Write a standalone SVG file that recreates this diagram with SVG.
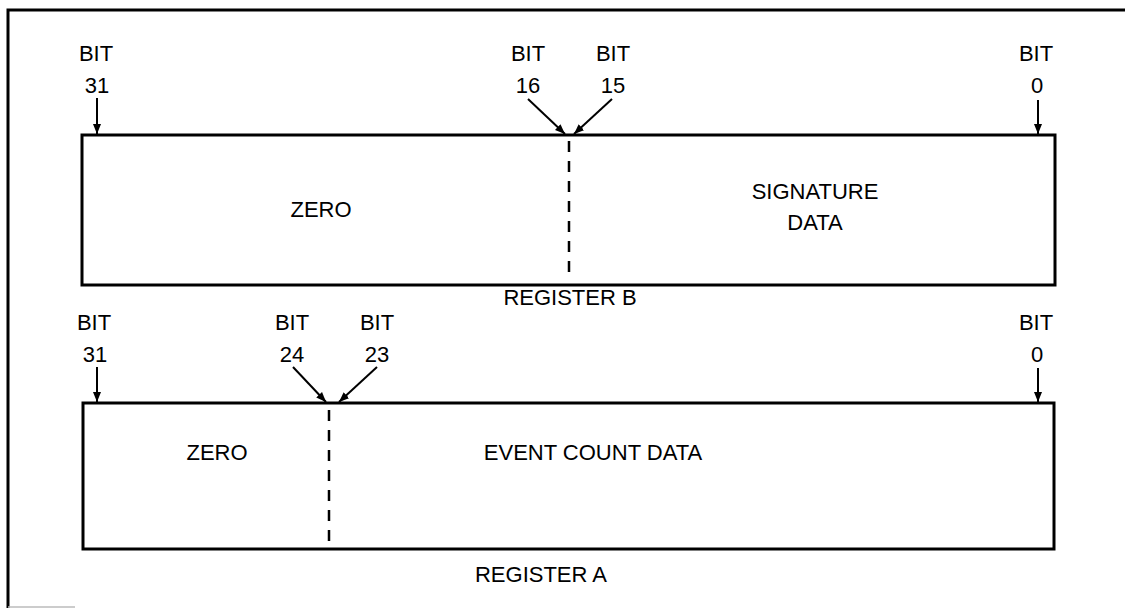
<svg xmlns="http://www.w3.org/2000/svg" width="1125" height="609" viewBox="0 0 1125 609">
<style>
.t{font-family:"Liberation Sans",Arial,sans-serif;font-size:22px;fill:#000;text-anchor:middle}
.box{fill:none;stroke:#000;stroke-width:3}
.dash{stroke:#000;stroke-width:2.5;stroke-dasharray:11 9;fill:none}
.arr{stroke:#000;stroke-width:2;fill:none;marker-end:url(#ah)}
.frame{stroke:#000;stroke-width:3;fill:none}
</style>
<defs>
<marker id="ah" viewBox="0 0 10 10" refX="10" refY="5" markerWidth="5" markerHeight="5" orient="auto" markerUnits="strokeWidth">
<path d="M0,1 L10,5 L0,9 z" fill="#000"/>
</marker>
</defs>
<rect width="1125" height="609" fill="#fff"/>
<path class="frame" d="M8,608 L8,10 L1125,10"/>
<line x1="8" y1="607" x2="75" y2="607" stroke="#bbb" stroke-width="1.5"/>

<g id="registerB">
<rect class="box" x="82" y="135" width="973" height="150"/>
<line class="dash" x1="569" y1="141" x2="569" y2="280"/>
<text class="t" x="321" y="217">ZERO</text>
<text class="t" x="815" y="199">SIGNATURE</text>
<text class="t" x="815" y="230">DATA</text>
<text class="t" x="570" y="305">REGISTER B</text>
</g>

<g id="registerB-labels">
<text class="t" x="96" y="61">BIT</text>
<text class="t" x="97" y="93">31</text>
<text class="t" x="528" y="61">BIT</text>
<text class="t" x="528" y="93">16</text>
<text class="t" x="613" y="61">BIT</text>
<text class="t" x="613" y="93">15</text>
<text class="t" x="1036" y="61">BIT</text>
<text class="t" x="1037" y="93">0</text>
</g>

<g id="registerA">
<rect class="box" x="83" y="403" width="971" height="146"/>
<line class="dash" x1="329" y1="410" x2="329" y2="545"/>
<text class="t" x="217" y="460">ZERO</text>
<text class="t" x="593" y="460">EVENT COUNT DATA</text>
<text class="t" x="541" y="582">REGISTER A</text>
</g>

<g id="registerA-labels">
<text class="t" x="94" y="330">BIT</text>
<text class="t" x="95" y="362">31</text>
<text class="t" x="292" y="330">BIT</text>
<text class="t" x="292" y="362">24</text>
<text class="t" x="377" y="330">BIT</text>
<text class="t" x="377" y="362">23</text>
<text class="t" x="1036" y="330">BIT</text>
<text class="t" x="1037" y="362">0</text>
</g>

<g id="connectors">
<line class="arr" x1="97" y1="98" x2="97" y2="134"/>
<line class="arr" x1="1038" y1="100" x2="1038" y2="134"/>
<line class="arr" x1="528" y1="99" x2="565" y2="134"/>
<line class="arr" x1="612" y1="99" x2="574" y2="134"/>
<line class="arr" x1="97" y1="367" x2="97" y2="402"/>
<line class="arr" x1="1038" y1="368" x2="1038" y2="402"/>
<line class="arr" x1="293" y1="367" x2="326" y2="402"/>
<line class="arr" x1="377" y1="367" x2="339" y2="402"/>
</g>
</svg>
